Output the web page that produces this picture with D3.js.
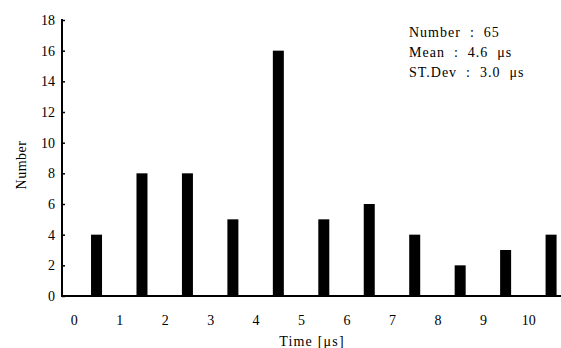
<!DOCTYPE html>
<style>
body { margin: 0; background: #fff; }
text { font-family: "Liberation Serif", "DejaVu Serif", serif; fill: #000; }
</style>
<svg width="561" height="348"></svg>
<script src="https://d3js.org/d3.v7.min.js"></script>
<script>

// histogram bins: centre of each bin in µs and the count in it
var binCenters = [0.5, 1.5, 2.5, 3.5, 4.5, 5.5, 6.5, 7.5, 8.5, 9.5, 10.5];
var counts = [4, 8, 8, 5, 16, 5, 6, 4, 2, 3, 4];
var xTicks = [0, 1, 2, 3, 4, 5, 6, 7, 8, 9, 10];
var yTicks = [0, 2, 4, 6, 8, 10, 12, 14, 16, 18];
var statLines = ["Number  :  65", "Mean  :  4.6  \u03bcs", "ST.Dev  :  3.0  \u03bcs"];

var svg = d3.select("svg"),
    axisX = 62,
    baseY = 296;

var x = d3.scaleLinear()
    .domain([0, 11])
    .range([73.8, 573.8]);

var y = d3.scaleLinear()
    .domain([0, 18])
    .range([baseY, 20]);

// bars
svg.append("g")
  .selectAll("rect")
  .data(counts)
  .enter().append("rect")
    .attr("x", function(d, i) { return x(binCenters[i]) - 5.5; })
    .attr("y", function(d) { return y(d); })
    .attr("width", 11)
    .attr("height", function(d) { return y(0) - y(d); })
    .attr("fill", "#000");

// y axis, ticks point inward
var yAxis = svg.append("g")
    .attr("transform", "translate(" + axisX + ",0)")
    .call(d3.axisRight(y).tickValues(yTicks).tickSize(3).tickFormat(d3.format("d")));
yAxis.select(".domain").remove();
yAxis.selectAll("line").attr("stroke", "#000").attr("stroke-width", 1.5);
yAxis.selectAll("text")
    .attr("x", -7)
    .attr("text-anchor", "end")
    .attr("font-size", 14)
    .attr("font-family", "Liberation Serif");

svg.append("line")
    .attr("x1", axisX).attr("x2", axisX)
    .attr("y1", y(18) - 1).attr("y2", baseY + 1)
    .attr("stroke", "#000").attr("stroke-width", 2);

// x axis: plain line with labels, no tick marks
svg.append("line")
    .attr("x1", axisX).attr("x2", 561)
    .attr("y1", baseY).attr("y2", baseY)
    .attr("stroke", "#000").attr("stroke-width", 2);

var xAxis = svg.append("g")
    .attr("transform", "translate(0," + baseY + ")")
    .call(d3.axisBottom(x).tickValues(xTicks).tickSize(0).tickPadding(19).tickFormat(d3.format("d")));
xAxis.select(".domain").remove();
xAxis.selectAll("text")
    .attr("font-size", 14)
    .attr("font-family", "Liberation Serif");

svg.append("text")
    .attr("x", 312)
    .attr("y", 346)
    .attr("text-anchor", "middle")
    .attr("font-size", 14)
    .attr("letter-spacing", 1.2)
    .style("white-space", "pre")
    .text("Time [\u03bcs]");

svg.append("text")
    .attr("transform", "translate(26,165) rotate(-90)")
    .attr("text-anchor", "middle")
    .attr("font-size", 14)
    .attr("letter-spacing", 0.5)
    .text("Number");

svg.append("g")
  .selectAll("text")
  .data(statLines)
  .enter().append("text")
    .attr("x", 409)
    .attr("y", function(d, i) { return 37 + i * 20; })
    .attr("font-size", 14)
    .attr("letter-spacing", 1)
    .style("white-space", "pre")
    .text(function(d) { return d; });

</script>
